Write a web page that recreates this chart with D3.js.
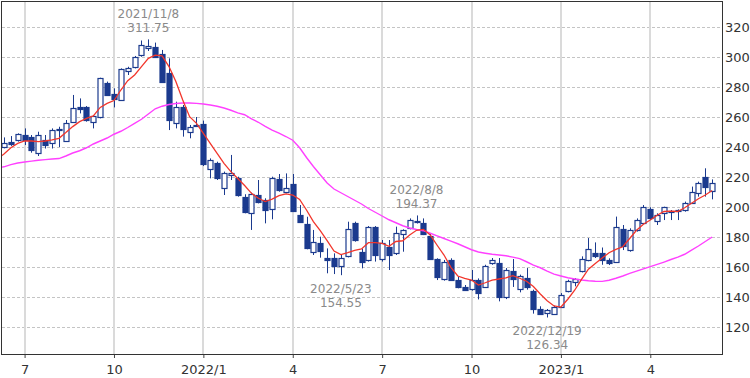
<!DOCTYPE html>
<html lang="ja">
<head>
<meta charset="UTF-8">
<title>Weekly candlestick chart</title>
<script src="https://d3js.org/d3.v7.min.js"></script>
<style>
  body { margin: 0; background: #fff; }
  text { font-family: "DejaVu Sans", Verdana, sans-serif; font-size: 12px; }
  .axis text { fill: #333; }
  .note { fill: #8a8a8a; }
</style>
</head>
<body>
<div id="chart"></div>
<script>
// weekly bars, first one is the week of 2021/6/14
const firstWeek = "2021-06-14";

const opens = [240.2, 243.6, 244.7, 248.0, 246.9, 235.8, 244.7, 242.4, 251.0, 244.0,
  256.9, 266.7, 266.4, 256.9, 259.8, 282.9, 275.1, 271.3, 290.2, 293.1,
  301.3, 306.0, 306.9, 302.0, 289.1, 255.8, 266.9, 250.2, 254.7, 255.3,
  225.1, 229.1, 212.4, 221.0, 219.1, 206.9, 196.2, 208.0, 204.7, 198.4,
  218.4, 210.2, 215.3, 194.7, 188.7, 170.2, 175.8, 166.0, 165.8, 160.2,
  167.3, 189.1, 170.2, 164.7, 186.9, 165.8, 173.5, 169.1, 182.0, 185.8,
  190.2, 189.6, 180.7, 165.1, 152.4, 164.7, 151.3, 146.9, 145.1, 151.3,
  147.1, 162.6, 162.6, 140.0, 157.1, 144.9, 152.6, 143.8, 132.0, 128.9,
  128.9, 133.8, 143.8, 149.8, 157.1, 164.9, 169.3, 169.5, 164.7, 163.6,
  185.1, 171.3, 184.7, 189.6, 198.4, 190.9, 195.8, 197.3, 197.0, 198.0,
  202.9, 209.1, 219.8, 210.9];
const highs = [246.4, 247.3, 249.1, 252.4, 248.0, 250.2, 248.0, 252.4, 253.5, 258.0,
  274.7, 272.4, 267.3, 261.3, 286.2, 283.6, 279.1, 292.4, 293.5, 300.7,
  311.0, 311.75, 309.6, 304.7, 299.1, 270.2, 268.0, 254.7, 260.0, 257.6,
  232.4, 230.2, 223.6, 234.7, 220.2, 208.5, 209.6, 218.0, 205.8, 220.2,
  222.0, 222.4, 222.0, 201.3, 193.5, 184.7, 180.2, 172.4, 169.1, 168.0,
  190.2, 190.2, 172.4, 187.3, 187.3, 178.0, 178.0, 186.9, 185.1, 192.4,
  194.37, 192.4, 182.0, 165.8, 164.7, 165.8, 153.5, 148.0, 158.0, 152.4,
  161.5, 166.0, 166.0, 159.3, 165.3, 154.9, 159.3, 144.9, 133.8, 132.0,
  134.2, 142.6, 151.5, 152.6, 167.1, 179.3, 176.4, 173.0, 165.8, 193.6,
  188.0, 185.8, 192.4, 201.3, 199.8, 195.8, 200.2, 198.0, 198.4, 203.6,
  213.6, 216.9, 225.8, 218.4];
const lows = [239.1, 240.7, 243.6, 241.3, 236.2, 234.0, 239.0, 239.0, 240.0, 243.6,
  256.2, 262.4, 256.9, 252.4, 259.1, 274.0, 266.4, 270.9, 288.0, 292.4,
  300.2, 304.0, 299.8, 282.9, 251.3, 252.4, 246.9, 245.8, 253.5, 227.3,
  219.1, 218.0, 208.0, 218.0, 206.9, 195.8, 184.7, 202.4, 189.1, 191.8,
  210.2, 209.1, 196.9, 189.6, 171.8, 168.0, 166.2, 155.8, 155.3, 154.55,
  166.4, 176.9, 159.1, 163.6, 163.6, 163.6, 158.0, 168.0, 170.2, 185.1,
  189.0, 181.3, 164.7, 151.3, 150.9, 150.9, 145.8, 144.2, 144.2, 138.4,
  146.7, 161.5, 137.1, 138.6, 146.7, 143.1, 144.9, 128.9, 128.2, 126.34,
  128.9, 133.3, 143.1, 147.1, 156.4, 163.8, 166.0, 161.5, 161.3, 162.9,
  171.3, 170.2, 183.6, 189.1, 191.3, 188.0, 191.3, 191.3, 191.3, 196.9,
  202.4, 206.9, 206.9, 205.1];
const closes = [242.9, 242.0, 248.4, 244.7, 238.4, 248.0, 241.3, 251.3, 252.0, 256.2,
  266.2, 265.6, 257.6, 260.7, 285.8, 275.1, 271.8, 291.8, 292.4, 299.8,
  308.0, 307.5, 300.2, 283.6, 258.0, 266.4, 252.4, 253.5, 254.2, 228.7,
  231.3, 219.1, 222.4, 222.5, 208.0, 196.9, 208.7, 203.5, 198.0, 219.1,
  211.3, 212.9, 197.6, 190.2, 172.4, 176.9, 170.2, 164.5, 160.2, 165.8,
  185.1, 178.0, 163.6, 186.9, 168.0, 176.2, 168.0, 182.4, 184.7, 191.3,
  190.7, 182.4, 165.1, 153.1, 163.6, 151.3, 146.9, 144.7, 151.3, 142.4,
  160.8, 164.4, 140.0, 158.2, 151.5, 153.8, 146.7, 132.0, 128.9, 131.1,
  133.3, 141.5, 150.4, 152.0, 165.3, 172.0, 167.5, 164.8, 162.9, 186.9,
  173.6, 184.7, 191.3, 200.2, 192.4, 194.7, 199.8, 197.6, 198.0, 202.4,
  210.2, 215.8, 213.1, 216.2];

// moving averages, starting one week before the first bar (2021/6/7)
const maShort = [232.0, 235.3, 239.5, 242.4, 244.0, 244.0, 243.6, 244.0, 244.7, 245.8,
  249.6, 253.6, 256.9, 259.1, 260.7, 266.4, 269.1, 271.0, 278.0, 284.2,
  288.0, 293.6, 299.1, 301.3, 300.7, 293.6, 283.6, 271.3, 260.2, 255.8,
  249.1, 242.4, 235.8, 229.1, 223.6, 219.0, 214.3, 209.1, 205.8, 203.6,
  205.3, 207.6, 208.7, 208.0, 205.1, 198.0, 190.2, 184.2, 177.6, 170.6,
  168.3, 169.6, 171.1, 172.0, 176.2, 176.2, 175.8, 173.8, 177.0, 177.5,
  181.3, 184.5, 185.1, 181.3, 174.5, 168.0, 159.8, 154.0, 152.4, 151.3,
  148.0, 149.5, 151.3, 152.0, 152.8, 154.2, 152.5, 150.5, 147.0, 142.0,
  137.5, 134.0, 133.3, 138.5, 144.5, 151.8, 158.5, 162.4, 166.0, 169.5,
  171.8, 173.5, 179.0, 184.5, 188.5, 191.3, 194.5, 197.0, 197.2, 197.0,
  199.5, 202.5, 205.5, 208.0, 211.0];
const maLong = [226.0, 226.8, 228.3, 229.3, 230.0, 230.6, 231.2, 231.6, 232.0, 232.3,
  234.0, 236.0, 237.5, 239.5, 242.0, 244.0, 246.0, 248.5, 250.5, 253.0,
  255.8, 258.5, 262.0, 265.5, 267.2, 268.3, 269.0, 269.3, 269.3, 269.1,
  268.7, 268.0, 267.2, 266.0, 264.5, 262.8, 261.5, 258.8, 256.5, 253.8,
  251.3, 249.2, 247.0, 244.5, 239.5, 233.0, 227.0, 221.5, 216.0, 212.0,
  209.5, 207.0, 204.5, 202.0, 199.0, 196.5, 194.0, 191.5, 189.5, 187.5,
  186.0, 185.0, 184.2, 182.5, 180.7, 179.0, 177.3, 175.5, 173.5, 171.5,
  170.0, 169.2, 168.5, 168.0, 167.5, 166.6, 165.6, 163.5, 161.3, 159.5,
  157.3, 155.3, 154.0, 152.8, 152.0, 151.3, 150.8, 150.5, 150.4, 151.2,
  152.5, 154.0, 155.8, 157.3, 158.8, 160.2, 161.7, 163.3, 165.0, 166.6,
  168.5, 171.2, 174.0, 177.0, 180.0];

const yTicks = [120, 140, 160, 180, 200, 220, 240, 260, 280, 300, 320];
const xTickDates = ["2021-07-05", "2021-10-04", "2022-01-03", "2022-04-04",
  "2022-07-04", "2022-10-03", "2023-01-02", "2023-04-03"];
const xTickLabels = ["7", "10", "2022/1", "4", "7", "10", "2023/1", "4"];

// marked extremes: bar index and whether it is a high or a low
const noteBars = [21, 49, 60, 79];
const noteKinds = ["high", "low", "high", "low"];

const W = 750, H = 378;
const plot = { left: 2, top: 2, right: 722, bottom: 354 };
const navy = "#1b3a8e";

const parse = d3.utcParse("%Y-%m-%d");
const start = parse(firstWeek);
const dates = opens.map((d, i) => d3.utcMonday.offset(start, i));
const maDates = maShort.map((d, i) => d3.utcMonday.offset(start, i - 1));

const bars = dates.map((d, i) => ({
  date: d, open: opens[i], high: highs[i], low: lows[i], close: closes[i]
}));

const x = d3.scaleUtc()
  .domain([parse("2021-06-12"), parse("2023-06-15")])
  .range([plot.left, plot.right]);
const y = d3.scaleLinear()
  .domain([102, 336.67])
  .range([plot.bottom, plot.top]);

const svg = d3.select("#chart").append("svg")
  .attr("width", W)
  .attr("height", H);

svg.append("defs").append("clipPath").attr("id", "clip")
  .append("rect")
  .attr("x", plot.left).attr("y", plot.top)
  .attr("width", plot.right - plot.left).attr("height", plot.bottom - plot.top);

// grid
svg.append("g")
  .selectAll("line")
  .data(yTicks)
  .join("line")
  .attr("x1", plot.left).attr("x2", plot.right)
  .attr("y1", d => Math.round(y(d)) + 0.5).attr("y2", d => Math.round(y(d)) + 0.5)
  .attr("stroke", "#c4c4c4")
  .attr("stroke-dasharray", "3,2");

svg.append("g")
  .selectAll("line")
  .data(xTickDates.map(parse))
  .join("line")
  .attr("x1", d => Math.round(x(d))).attr("x2", d => Math.round(x(d)))
  .attr("y1", plot.top).attr("y2", plot.bottom)
  .attr("stroke", "#dadada")
  .attr("stroke-width", 2);

// axes
const xAxis = svg.append("g")
  .attr("class", "axis")
  .attr("transform", `translate(0,${plot.bottom})`)
  .call(d3.axisBottom(x)
    .tickValues(xTickDates.map(parse))
    .tickFormat((d, i) => xTickLabels[i])
    .tickSize(4)
    .tickPadding(7));
xAxis.select(".domain").remove();
xAxis.selectAll("line").attr("stroke", "#444");
xAxis.selectAll("text").style("font-size", "13px");

const yAxis = svg.append("g")
  .attr("class", "axis")
  .attr("transform", `translate(${plot.right},0)`)
  .call(d3.axisRight(y)
    .tickValues(yTicks)
    .tickSize(0)
    .tickPadding(3));
yAxis.select(".domain").remove();
yAxis.selectAll("text").style("font-size", "13px");

// candles
const cg = svg.append("g").attr("clip-path", "url(#clip)");
const candle = cg.selectAll("g")
  .data(bars)
  .join("g")
  .attr("transform", d => `translate(${Math.round(x(d.date)) + 0.5},0)`);

candle.append("line")
  .attr("y1", d => y(d.high))
  .attr("y2", d => y(d.low))
  .attr("stroke", navy);

candle.append("rect")
  .attr("x", -2.5)
  .attr("width", 5)
  .attr("y", d => Math.round(y(Math.max(d.open, d.close))) + 0.5)
  .attr("height", d => Math.max(1, Math.round(Math.abs(y(d.open) - y(d.close)))))
  .attr("fill", d => d.close >= d.open ? "#fff" : navy)
  .attr("stroke", navy)
  .attr("stroke-width", 1.2);

// moving average lines
const lg = svg.append("g").attr("clip-path", "url(#clip)");
const line = d3.line()
  .x((d, i) => x(maDates[i]))
  .y(d => y(d));

lg.append("path")
  .datum(maLong)
  .attr("d", line)
  .attr("fill", "none")
  .attr("stroke", "#ff40ff")
  .attr("stroke-width", 1.4);

lg.append("path")
  .datum(maShort)
  .attr("d", line)
  .attr("fill", "none")
  .attr("stroke", "#f2362c")
  .attr("stroke-width", 1.3);

// frame
svg.append("rect")
  .attr("x", plot.left - 0.5).attr("y", plot.top - 0.5)
  .attr("width", plot.right - plot.left + 1).attr("height", plot.bottom - plot.top + 1)
  .attr("fill", "none")
  .attr("stroke", "#333");

// notes on the extremes
const fmtDate = d3.utcFormat("%Y/%-m/%-d");
noteBars.forEach((bi, k) => {
  const b = bars[bi];
  const isHigh = noteKinds[k] === "high";
  const v = isHigh ? b.high : b.low;
  const cx = x(b.date);
  const y1 = isHigh ? y(v) - 21 : y(v) + 18;
  const y2 = isHigh ? y(v) - 7 : y(v) + 32;
  svg.append("text").attr("class", "note")
    .attr("x", cx).attr("y", y1).attr("text-anchor", "middle")
    .text(fmtDate(b.date));
  svg.append("text").attr("class", "note")
    .attr("x", cx).attr("y", y2).attr("text-anchor", "middle")
    .text(v.toFixed(2));
});
</script>
</body>
</html>
